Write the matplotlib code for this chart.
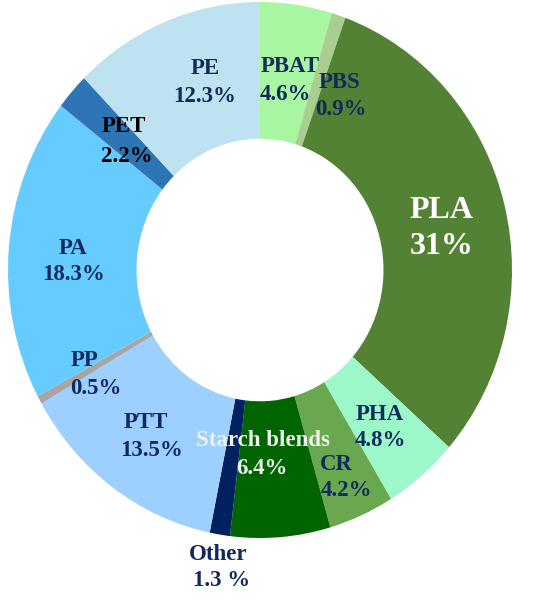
import matplotlib
matplotlib.use('Agg')
import matplotlib.pyplot as plt

labels = ['PBAT', 'PBS', 'PLA', 'PHA', 'CR', 'Starch blends', 'Other',
          'PTT', 'PP', 'PA', 'PET', 'PE']
shares = [4.6, 0.9, 31, 4.8, 4.2, 6.4, 1.3, 13.5, 0.5, 18.3, 2.2, 12.3]
pct_text = ['4.6%', '0.9%', '31%', '4.8%', '4.2%', '6.4%', '1.3 %',
            '13.5%', '0.5%', '18.3%', '2.2%', '12.3%']
colors = ['#a8f5a2', '#a9cf90', '#548235', '#9cf8c8', '#6aa84f', '#006400',
          '#002060', '#9dcfff', '#a6a6a6', '#66ccff', '#2e75b6', '#bfe2f0']

# label placement in pixels (x, y of name line)
label_pos = {
    'PBAT': (290, 66), 'PBS': (340, 82), 'PLA': (441, 211), 'PHA': (380, 414),
    'CR': (336, 465), 'Starch blends': (263, 440), 'Other': (218, 554),
    'PTT': (146, 423), 'PP': (85, 360), 'PA': (73, 248), 'PET': (124, 126),
    'PE': (205, 68),
}
pct_pos = {
    'PBAT': (285, 94), 'PBS': (341, 109), 'PLA': (442, 246), 'PHA': (380, 441),
    'CR': (346, 491), 'Starch blends': (262, 468), 'Other': (222, 581),
    'PTT': (151, 451), 'PP': (96, 388), 'PA': (73, 274), 'PET': (127, 156),
    'PE': (205, 97),
}
navy = '#112a5e'
label_col = {k: navy for k in labels}
label_col['PLA'] = 'white'
label_col['Starch blends'] = '#eef2ee'
label_col['PET'] = 'black'

W, H = 550, 601
fig = plt.figure(figsize=(W / 100, H / 100), dpi=100)
ax = fig.add_axes([8 / W, 63 / H, 504 / W, 536 / H])
ax.pie(shares, colors=colors, startangle=90, counterclock=False,
       wedgeprops=dict(width=0.51, linewidth=0))
ax.set_aspect('auto')
ax.set_xlim(-1, 1)
ax.set_ylim(-1, 1)
ax.axis('off')

for name, pct in zip(labels, pct_text):
    size = 23 if name == 'PLA' else 16.5
    kw = dict(ha='center', va='center', fontsize=size, fontweight='bold',
              family='Liberation Serif', color=label_col[name])
    x, y = label_pos[name]
    fig.text(x / W, 1 - y / H, name, **kw)
    x, y = pct_pos[name]
    fig.text(x / W, 1 - y / H, pct, **kw)

fig.savefig('out.png', dpi=100)
